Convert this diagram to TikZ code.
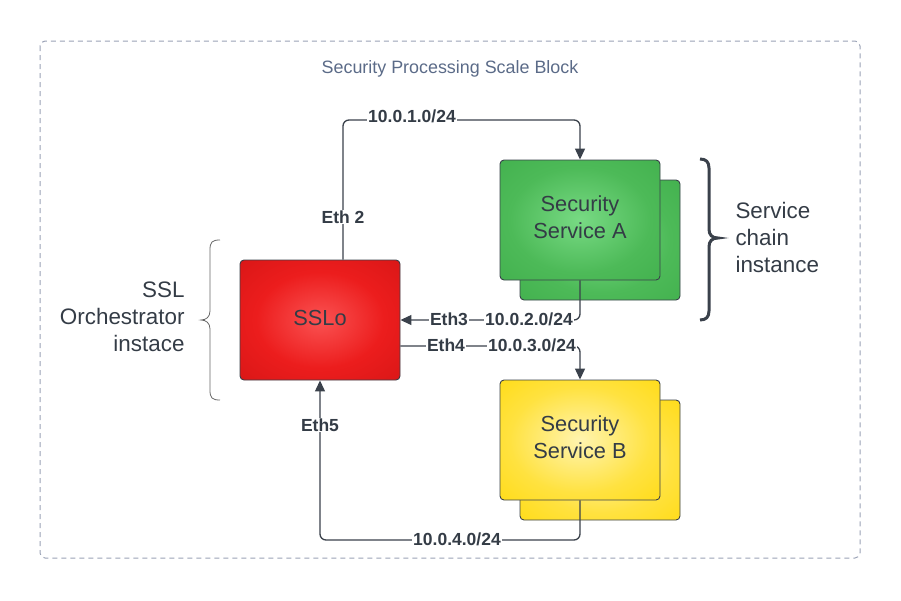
\documentclass[tikz,border=0pt]{standalone}
\usepackage{fontspec}
\setmainfont{Liberation Sans}
\usetikzlibrary{arrows.meta,shadings}
\definecolor{ink}{HTML}{343C46}
\definecolor{linec}{HTML}{3A414B}
\definecolor{dashc}{HTML}{9AA2B6}
\definecolor{titlec}{HTML}{5B6B88}
\definecolor{rA}{HTML}{FA5252}\definecolor{rB}{HTML}{EC1D1D}\definecolor{rC}{HTML}{CF1313}\definecolor{rD}{HTML}{A80E0E}
\definecolor{gA}{HTML}{78DA84}\definecolor{gB}{HTML}{4DBA58}\definecolor{gC}{HTML}{3DAC49}\definecolor{gD}{HTML}{349E40}
\definecolor{yA}{HTML}{FFF4B0}\definecolor{yB}{HTML}{FFE240}\definecolor{yC}{HTML}{FFD800}\definecolor{yD}{HTML}{F4CC00}
\pgfdeclareradialshading{redsh}{\pgfpoint{0bp}{0bp}}{color(0bp)=(rA); color(20bp)=(rB); color(45bp)=(rC); color(71bp)=(rD)}
\pgfdeclareradialshading{greensh}{\pgfpoint{0bp}{0bp}}{color(0bp)=(gA); color(22bp)=(gB); color(45bp)=(gC); color(71bp)=(gD)}
\pgfdeclareradialshading{yellowsh}{\pgfpoint{0bp}{0bp}}{color(0bp)=(yA); color(22bp)=(yB); color(45bp)=(yC); color(71bp)=(yD)}
\tikzset{
  x=1pt, y=-1pt,
  box/.style={draw=linec, line width=0.9pt, rounded corners=4pt, minimum width=160pt, minimum height=120pt, inner sep=0pt},
  redbox/.style={box, shading=redsh},
  greenbox/.style={box, shading=greensh},
  yellowbox/.style={box, shading=yellowsh},
  boxtext/.style={align=center, text=ink, inner sep=0pt, font=\fontsize{21.8}{27}\selectfont},
  conn/.style={draw=linec, line width=1.3pt, rounded corners=6pt, -{Triangle[length=11pt,width=10pt]}},
  lbl/.style={fill=white, inner sep=1pt, text=ink, font=\bfseries\fontsize{17.5}{20}\selectfont},
  side/.style={text=ink, font=\fontsize{22.4}{27}\selectfont},
}
\begin{document}
\begin{tikzpicture}
\useasboundingbox (0,0) rectangle (901,600);
% outer frame
\draw[dashc, line width=1pt, dash pattern=on 5pt off 4pt, rounded corners=5pt] (40,41) rectangle (860,558);
\node[text=titlec, font=\fontsize{17.9}{20}\selectfont] (title) at (450,69) {Security Processing Scale Block};
% boxes
\node[redbox] (sslo) at (320,320) {};
\node[greenbox] (gab) at (600,240) {};
\node[greenbox] (ga) at (580,220) {};
\node[yellowbox] (ybb) at (600,460) {};
\node[yellowbox] (yb) at (580,440) {};
\node[boxtext] (sslot) at ([yshift=2.5pt]sslo.center) {SSLo};
\node[boxtext] (gat) at ([yshift=3pt]ga.center) {Security\\Service A};
\node[boxtext] (ybt) at ([yshift=3pt]yb.center) {Security\\Service B};
% connectors
\coordinate (c2) at (580,120);
\coordinate (c5) at (320,540);
\draw[conn] ([xshift=23pt]sslo.north) |- (c2) -- (ga.north);
\draw[conn] (ga.south) |- (sslo.east);
\draw[conn] ([yshift=-26pt]sslo.east) -| (yb.north);
\draw[conn] (yb.south) |- (c5) -- (sslo.south);
% labels
\node[lbl] (l2a) at (412,116) {10.0.1.0/24};
\node[lbl] (l2b) at (343,217) {Eth 2};
\node[lbl] (l3a) at (449,319) {Eth3};
\node[lbl] (l3b) at (529,319) {10.0.2.0/24};
\node[lbl] (l4a) at (446,345) {Eth4};
\node[lbl] (l4b) at (532,345) {10.0.3.0/24};
\node[lbl] (l5a) at (457,539) {10.0.4.0/24};
\node[lbl] (l5b) at (320,425) {Eth5};
% braces
\draw[gray!80!black, line width=0.8pt] (220,240) .. controls (212,240) and (210,242) .. (210,250) -- (210,311) .. controls (210,317) and (206,320) .. (201,320) .. controls (206,320) and (210,323) .. (210,329) -- (210,390) .. controls (210,398) and (212,400) .. (220,400);
\draw[linec, line width=3pt] (700,159) .. controls (706,159) and (709,162) .. (709,168) -- (709,229) .. controls (709,235) and (712,238) .. (718,238) .. controls (712,238) and (709,241) .. (709,247) -- (709,311) .. controls (709,317) and (706,320) .. (700,320);
\node[side, align=right, anchor=east] (lside) at (188,317) {SSL\\Orchestrator\\instace};
\node[side, align=left, anchor=west] (rside) at (732,237) {Service\\chain\\instance};
\end{tikzpicture}
\end{document}
